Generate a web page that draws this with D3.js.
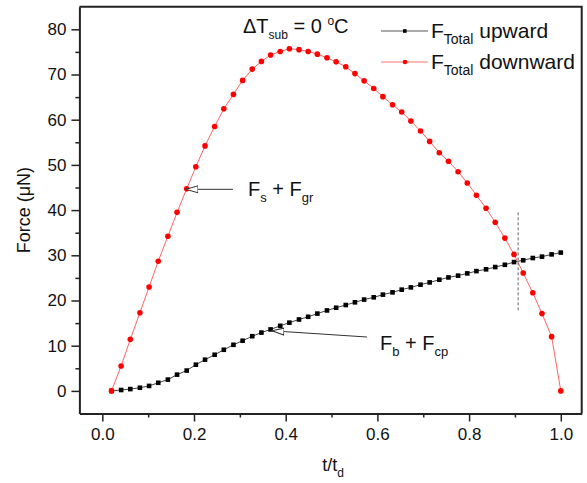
<!DOCTYPE html>
<html lang="en">

<head>
    <meta charset="UTF-8">
    <title>Force vs t/td</title>
    <script src="https://cdn.jsdelivr.net/npm/d3@7"></script>
    <style>
        body { margin: 0; background: #fff; }
        text { font-family: Arial, "Liberation Sans", sans-serif; fill: #111; }
    </style>
</head>

<body>
    <script>
        // t/t_d sample points
        const tValues = [0.020, 0.041, 0.061, 0.082, 0.102, 0.122, 0.143, 0.163, 0.184, 0.204,
            0.224, 0.245, 0.265, 0.286, 0.306, 0.327, 0.347, 0.367, 0.388, 0.408,
            0.429, 0.449, 0.469, 0.490, 0.510, 0.531, 0.551, 0.571, 0.592, 0.612,
            0.633, 0.653, 0.673, 0.694, 0.714, 0.735, 0.755, 0.776, 0.796, 0.816,
            0.837, 0.857, 0.878, 0.898, 0.918, 0.939, 0.959, 0.980, 1.000];

        // F_Total upward (uN)
        const upward = [0, 0.2, 0.4, 0.7, 1.1, 1.8, 2.5, 3.6, 4.5, 5.8,
            6.9, 8.0, 9.1, 10.2, 11.1, 12.1, 12.9, 13.6, 14.4, 15.1,
            15.8, 16.4, 17.1, 17.8, 18.4, 19.0, 19.6, 20.2, 20.7, 21.3,
            21.8, 22.4, 22.9, 23.5, 24.0, 24.6, 25.1, 25.5, 26.0, 26.5,
            26.9, 27.4, 27.9, 28.5, 28.9, 29.4, 29.7, 30.2, 30.6];

        // F_Total downward (uN)
        const downward = [0, 5.5, 11.4, 17.3, 23.0, 28.7, 34.2, 39.5, 44.7, 49.6,
            54.2, 58.5, 62.4, 65.6, 68.7, 71.2, 72.9, 74.3, 75.1, 75.7,
            75.5, 75.1, 74.5, 73.7, 72.8, 71.7, 70.2, 68.6, 66.9, 65.1,
            63.3, 61.7, 59.7, 57.5, 55.2, 52.7, 50.8, 48.5, 46.0, 43.3,
            40.4, 37.3, 33.8, 30.2, 26.1, 21.7, 17.1, 12.0, 0];

        const xTicks = [0.0, 0.2, 0.4, 0.6, 0.8, 1.0];
        const yTicks = [0, 10, 20, 30, 40, 50, 60, 70, 80];
        const crossT = 0.907;            // dashed marker at the crossing
        const crossRange = [17.4, 39.5];

        const width = 587, height = 483;
        const plot = { left: 79.4, right: 581.7, top: 6.7, bottom: 413.5 };

        const svg = d3.select('body')
            .append('svg')
            .attr('width', width)
            .attr('height', height);

        const x = d3.scaleLinear()
            .domain([-0.05, 1.0456])
            .range([plot.left, plot.right]);

        const y = d3.scaleLinear()
            .domain([-5, 85])
            .range([plot.bottom, plot.top]);

        // arrow head
        svg.append('defs').append('marker')
            .attr('id', 'arrow')
            .attr('viewBox', '0 -5 13 10')
            .attr('refX', 12).attr('refY', 0)
            .attr('markerWidth', 13).attr('markerHeight', 10)
            .attr('markerUnits', 'userSpaceOnUse')
            .attr('orient', 'auto')
            .append('path')
            .attr('d', 'M0,-3.5 L12,0 L0,3.5 Z')
            .attr('fill', '#fff')
            .attr('stroke', '#333')
            .attr('stroke-width', 1);

        // frame (top and right)
        svg.append('path')
            .attr('d', `M${plot.left},${plot.top}H${plot.right}V${plot.bottom}`)
            .attr('fill', 'none')
            .attr('stroke', '#222')
            .attr('stroke-width', 2);

        // axes
        const xAxis = svg.append('g')
            .attr('transform', `translate(0,${plot.bottom})`)
            .call(d3.axisBottom(x).tickValues(xTicks).tickFormat(d3.format('.1f'))
                .tickSize(8).tickSizeOuter(0).tickPadding(6));

        const yAxis = svg.append('g')
            .attr('transform', `translate(${plot.left},0)`)
            .call(d3.axisLeft(y).tickValues(yTicks).tickSize(8).tickSizeOuter(0).tickPadding(5));

        // minor ticks
        xAxis.append('g')
            .call(d3.axisBottom(x).tickValues([0.1, 0.3, 0.5, 0.7, 0.9]).tickFormat('').tickSize(4).tickSizeOuter(0))
            .select('.domain').remove();
        yAxis.append('g')
            .call(d3.axisLeft(y).tickValues([5, 15, 25, 35, 45, 55, 65, 75]).tickFormat('').tickSize(4).tickSizeOuter(0))
            .select('.domain').remove();

        svg.selectAll('.domain')
            .attr('stroke', '#222')
            .attr('stroke-width', 2);
        svg.selectAll('.tick line')
            .attr('stroke', '#222')
            .attr('stroke-width', 1.5);
        svg.selectAll('.tick text')
            .style('font-size', '17px')
            .attr('fill', '#111');

        // axis labels
        const xLabel = svg.append('text')
            .attr('x', 333)
            .attr('y', 471)
            .attr('text-anchor', 'middle')
            .style('font-size', '18px');
        xLabel.append('tspan').text('t/t');
        xLabel.append('tspan').attr('dy', 6).style('font-size', '12px').text('d');

        svg.append('text')
            .attr('transform', 'rotate(-90)')
            .attr('x', -(plot.top + plot.bottom) / 2)
            .attr('y', 30)
            .attr('text-anchor', 'middle')
            .style('font-size', '18px')
            .text('Force (\u03BCN)');

        // series
        const pointsUp = tValues.map((t, i) => [t, upward[i]]);
        const pointsDown = tValues.map((t, i) => [t, downward[i]]);

        const line = d3.line()
            .x(d => x(d[0]))
            .y(d => y(d[1]));

        svg.append('path')
            .datum(pointsUp)
            .attr('d', line)
            .attr('fill', 'none')
            .attr('stroke', '#444')
            .attr('stroke-width', 1);

        svg.selectAll('.up')
            .data(pointsUp)
            .enter().append('rect')
            .attr('class', 'up')
            .attr('x', d => x(d[0]) - 2.3)
            .attr('y', d => y(d[1]) - 2.3)
            .attr('width', 4.6)
            .attr('height', 4.6)
            .attr('fill', '#000');

        svg.append('path')
            .datum(pointsDown)
            .attr('d', line)
            .attr('fill', 'none')
            .attr('stroke', '#ff6464')
            .attr('stroke-width', 1);

        svg.selectAll('.down')
            .data(pointsDown)
            .enter().append('circle')
            .attr('class', 'down')
            .attr('cx', d => x(d[0]))
            .attr('cy', d => y(d[1]))
            .attr('r', 2.8)
            .attr('fill', '#ff0000');

        // dashed vertical marker
        svg.append('line')
            .attr('x1', x(crossT)).attr('x2', x(crossT))
            .attr('y1', y(crossRange[1])).attr('y2', y(crossRange[0]))
            .attr('stroke', '#666')
            .attr('stroke-width', 1)
            .attr('stroke-dasharray', '3,2');

        // annotations
        svg.append('line')
            .attr('x1', 233).attr('y1', 189.3)
            .attr('x2', 186).attr('y2', 189.3)
            .attr('stroke', '#333')
            .attr('stroke-width', 1)
            .attr('marker-end', 'url(#arrow)');

        svg.append('line')
            .attr('x1', 367).attr('y1', 337)
            .attr('x2', 272).attr('y2', 330.8)
            .attr('stroke', '#333')
            .attr('stroke-width', 1)
            .attr('marker-end', 'url(#arrow)');

        // text with subscripts / superscripts
        function subLabel(xPos, yPos, parts, size, subSize) {
            const t = svg.append('text')
                .attr('x', xPos)
                .attr('y', yPos)
                .style('font-size', size + 'px');
            let shift = 0;
            parts.forEach(p => {
                let target = 0;
                let fs = size;
                let txt = p.t;
                if (p.sub) { target = 6; fs = subSize; txt = p.sub; }
                if (p.sup) { target = -8; fs = subSize; txt = p.sup; }
                t.append('tspan')
                    .attr('dy', target - shift)
                    .style('font-size', fs + 'px')
                    .text(txt);
                shift = target;
            });
            return t;
        }

        subLabel(248, 196, [{ t: 'F' }, { sub: 's' }, { t: ' + F' }, { sub: 'gr' }], 20, 13);
        subLabel(380, 350, [{ t: 'F' }, { sub: 'b' }, { t: ' + F' }, { sub: 'cp' }], 20, 13);
        subLabel(243, 32.5, [{ t: '\u0394T' }, { sub: 'sub' }, { t: ' = 0 ' }, { sup: 'o' }, { t: 'C' }], 20, 12);

        // legend
        const legendItems = [
            { name: 'upward', color: '#000', lineColor: '#555', shape: 'rect', y: 31 },
            { name: 'downward', color: '#ff0000', lineColor: '#ff7070', shape: 'circle', y: 62 }
        ];

        legendItems.forEach(d => {
            svg.append('line')
                .attr('x1', 381).attr('x2', 428)
                .attr('y1', d.y).attr('y2', d.y)
                .attr('stroke', d.lineColor)
                .attr('stroke-width', 1);
            if (d.shape === 'rect') {
                svg.append('rect')
                    .attr('x', 403).attr('y', d.y - 1.8)
                    .attr('width', 3.6).attr('height', 3.6)
                    .attr('fill', d.color);
            } else {
                svg.append('circle')
                    .attr('cx', 405).attr('cy', d.y)
                    .attr('r', 2.3)
                    .attr('fill', d.color);
            }
            subLabel(431, d.y + 7, [{ t: 'F' }, { sub: 'Total' }, { t: ' ' + d.name }], 21, 14);
        });
    </script>
</body>

</html>
